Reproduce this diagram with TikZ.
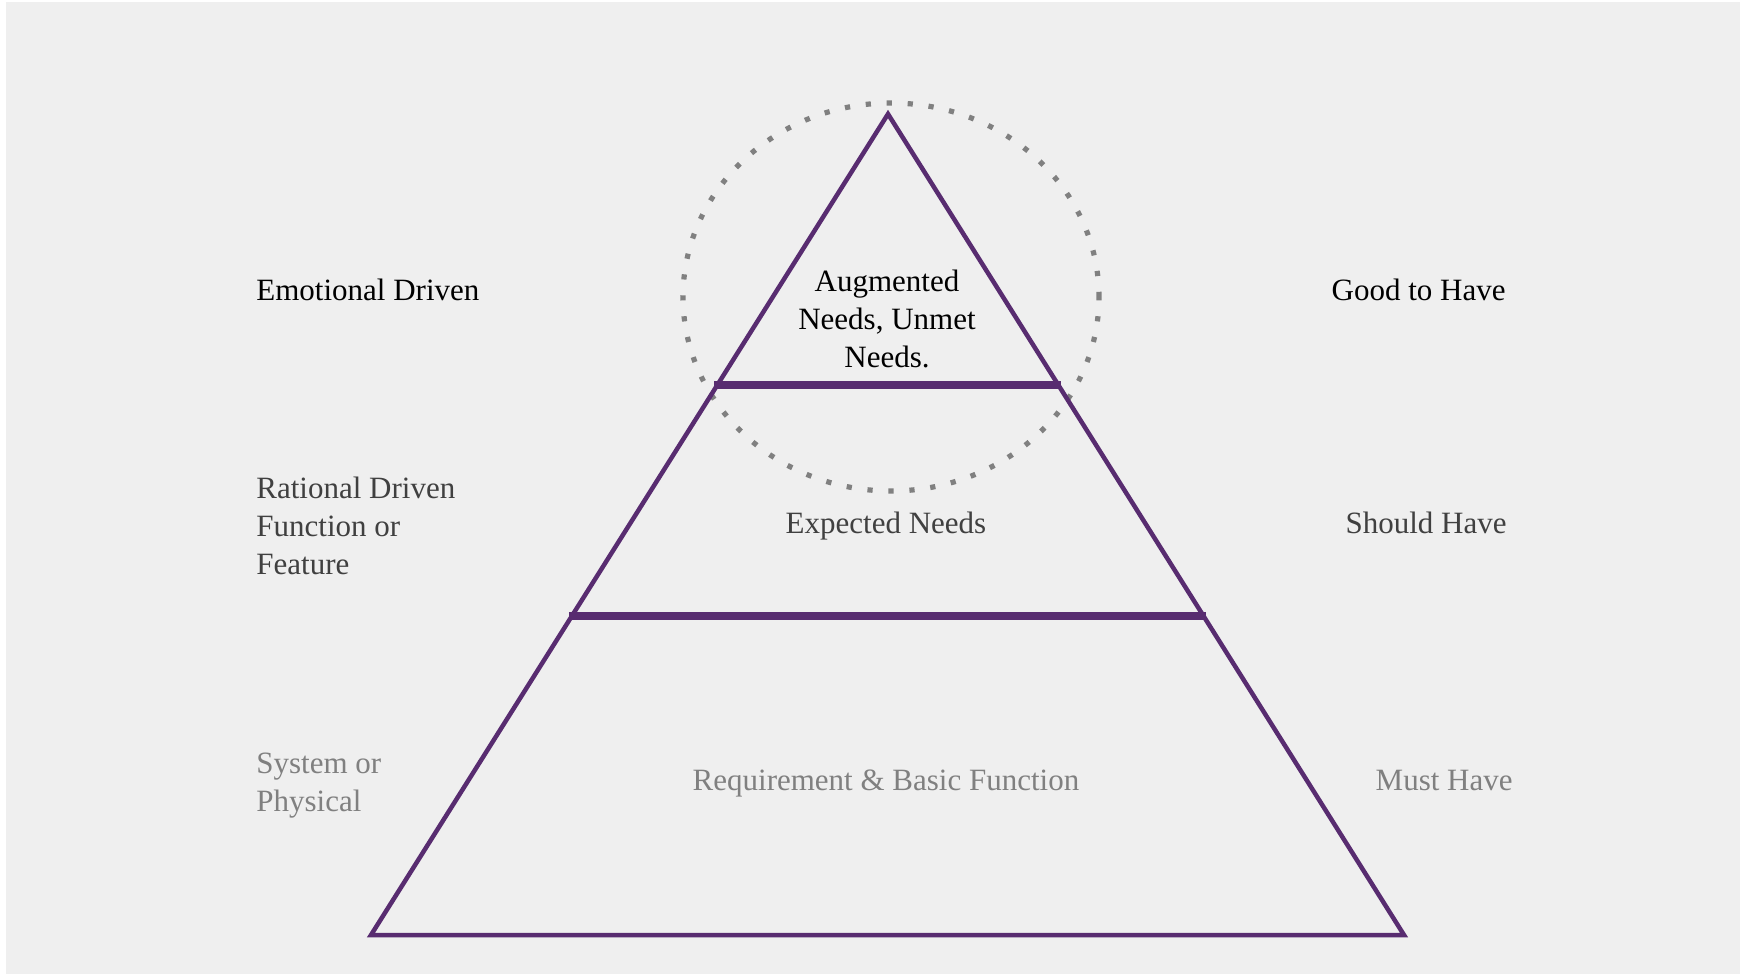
\documentclass[tikz,border=0pt]{standalone}
\usepackage{fontspec}
\setmainfont{Liberation Serif}
\usetikzlibrary{calc}
\definecolor{bg}{RGB}{239,239,239}
\definecolor{pyr}{RGB}{88,44,112}
\definecolor{dotc}{RGB}{128,128,128}
\definecolor{midtxt}{RGB}{64,64,64}
\definecolor{lowtxt}{RGB}{128,128,128}
\begin{document}
\begin{tikzpicture}[x=0.5pt,y=-0.5pt,
  lbl/.style={inner sep=0pt, font=\fontsize{15.5}{19}\selectfont},
  side/.style={draw=pyr, line width=2.25pt, line join=miter},
  bar/.style={draw=pyr, line width=3.7pt, shorten <=-1.5pt, shorten >=-1.5pt},
  dotring/.style={draw=dotc, line width=2.6pt, dash pattern=on 2.6pt off 7.9pt}]
\useasboundingbox (0,0) rectangle (1747,974);
\fill[white] (0,0) rectangle (1747,974);
\fill[bg] (6,2) rectangle (1740,974);
\coordinate (apex) at (888,114);
\coordinate (bl) at (371,935);
\coordinate (br) at (1404,935);
\coordinate (ec) at (891,297);
\draw[dotring] (ec) ellipse [x radius=104pt, y radius=97pt];
\draw[side] (apex) -- (bl) -- (br) -- cycle;
\coordinate (b1l) at ($(apex)!0.3301!(bl)$);
\coordinate (b1r) at ($(apex)!0.3301!(br)$);
\coordinate (b2l) at ($(apex)!0.6114!(bl)$);
\coordinate (b2r) at ($(apex)!0.6114!(br)$);
\draw[bar] (b1l) -- (b1r);
\draw[bar] (b2l) -- (b2r);
\node[lbl, anchor=base west, align=left] (emo) at (256,300) {Emotional Driven};
\node[lbl, anchor=base west, align=left, text=midtxt] (rat) at (256,574) {Rational Driven\\Function or\\Feature};
\node[lbl, anchor=base west, align=left, text=lowtxt] (sys) at (256,811) {System or\\Physical};
\node[lbl, anchor=base, align=center] (aug) at (887,367) {Augmented\\Needs, Unmet\\Needs.};
\node[lbl, anchor=base, text=midtxt] (exp) at (886,533) {Expected Needs};
\node[lbl, anchor=base, text=lowtxt] (req) at (886,790) {Requirement \& Basic Function};
\node[lbl, anchor=base east] (good) at (1506,300) {Good to Have};
\node[lbl, anchor=base east, text=midtxt] (should) at (1507,533) {Should Have};
\node[lbl, anchor=base east, text=lowtxt] (must) at (1513,790) {Must Have};
\end{tikzpicture}
\end{document}
